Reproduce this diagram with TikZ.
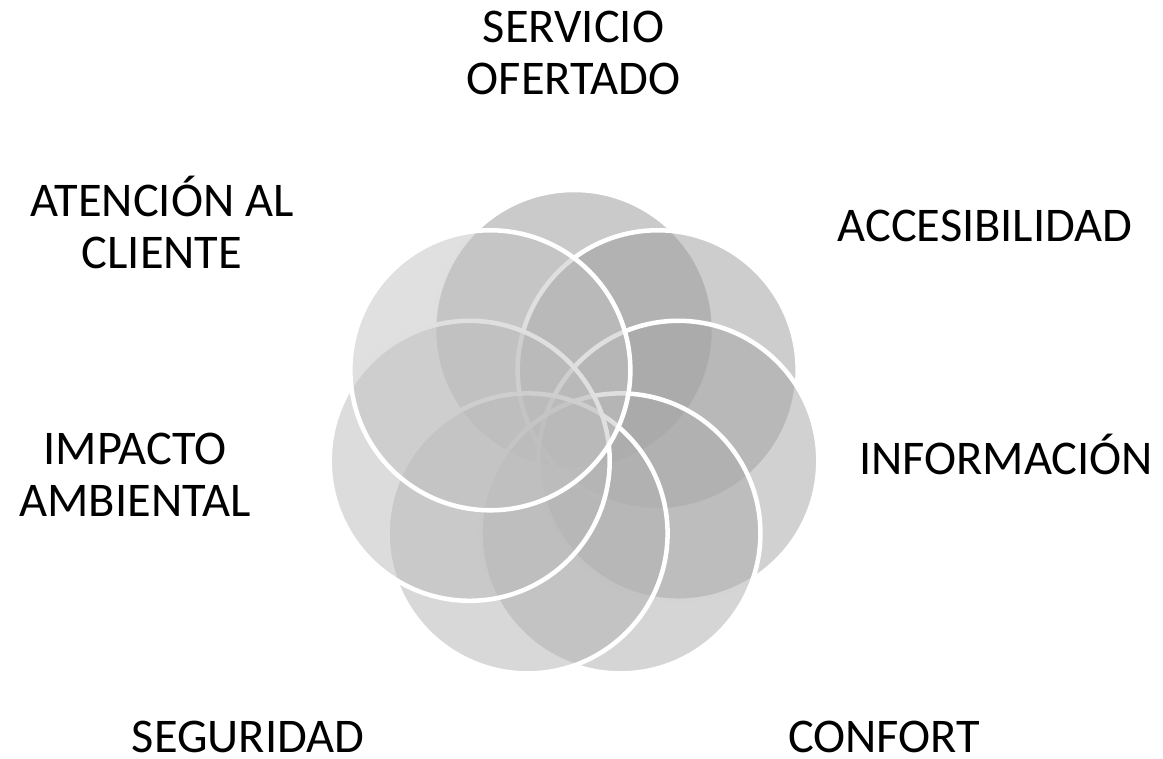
\documentclass[tikz,border=0pt]{standalone}
\usepackage{fontspec}
\setmainfont{Carlito}
\usetikzlibrary{positioning}

\tikzstyle{petal} = [circle,draw=white,line width=3.4pt,fill opacity=0.5,inner sep=0pt,minimum size=210pt]
\tikzstyle{label} = [font=\fontsize{36.3}{39}\selectfont,align=center,anchor=base,inner sep=0pt,text=black]

\begin{document}
\begin{tikzpicture}[x=0.75pt,y=0.75pt]
\useasboundingbox (0,0) rectangle (1163,759);

% Circles, drawn clockwise from the top
\begin{scope}[shift={(574,322)}]
\foreach \i in {0,...,6}{
  \pgfmathsetmacro\ang{90-\i*360/7}
  \pgfmathsetmacro\shade{41.6-2.9*\i}
  \node [petal,fill=black!\shade] (c\i) at (\ang:107) {};
}
\end{scope}

% Labels (base = baseline of the last line)
\node [label] (servicio) at (573.5,664) {SERVICIO\\OFERTADO};
\node [label] (acceso) at (985,517) {ACCESIBILIDAD};
\node [label] (info) at (1006,284) {INFORMACIÓN};
\node [label] (confort) at (884,6) {CONFORT};
\node [label] (seguridad) at (248,6) {SEGURIDAD};
\node [label] (impacto) at (135,242) {IMPACTO\\AMBIENTAL};
\node [label] (atencion) at (162,490) {ATENCIÓN AL\\CLIENTE};

\end{tikzpicture}
\end{document}
